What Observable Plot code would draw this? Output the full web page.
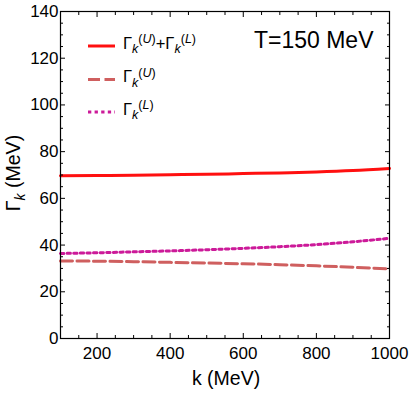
<!DOCTYPE html>
<html><head><meta charset="utf-8">
<script src="https://cdn.jsdelivr.net/npm/d3@7"></script>
<script src="https://cdn.jsdelivr.net/npm/@observablehq/plot@0.6"></script>
<style>body{margin:0;background:#fff} svg{display:block}</style>
</head><body><div id="chart"></div>
<script>
const k = [100, 200, 300, 400, 500, 600, 700, 800, 900, 1000];
const gammaSum = [69.7, 69.8, 69.9, 70.1, 70.3, 70.6, 70.9, 71.3, 71.9, 72.8];
const gammaU = [33.2, 33.1, 32.9, 32.6, 32.3, 32.0, 31.6, 31.1, 30.5, 29.8];
const gammaL = [36.4, 36.7, 37.1, 37.5, 38.0, 38.6, 39.3, 40.2, 41.4, 42.9];
const xTicks = [200, 400, 600, 800, 1000];
const yTicks = [0, 20, 40, 60, 80, 100, 120, 140];
const xMinor = [150, 250, 300, 350, 450, 500, 550, 650, 700, 750, 850, 900, 950];
const yMinor = [5, 10, 15, 25, 30, 35, 45, 50, 55, 65, 70, 75, 85, 90, 95, 105, 110, 115, 125, 130, 135];
const titleText = "T=150 MeV";

const FONT = "Liberation Sans, Arial, Helvetica, sans-serif";
const cSum = "#ff1010", cU = "#cf5f5f", cL = "#cc1a99";

const rows = k.map((v, i) => ({k: v, sum: gammaSum[i], u: gammaU[i], l: gammaL[i]}));

function tickAxes(maj, minr, dim) {
  const A = dim === "x" ? Plot.axisX : Plot.axisY;
  const anchors = dim === "x" ? ["bottom", "top"] : ["left", "right"];
  const out = [];
  for (const a of anchors) {
    out.push(A(maj, {anchor: a, tickSize: -5, fill: "none", label: null, stroke: "black", strokeWidth: 1}));
    out.push(A(minr, {anchor: a, tickSize: -3, fill: "none", label: null, stroke: "black", strokeWidth: 1}));
  }
  return out;
}

const plot = Plot.plot({
  width: 409,
  height: 394,
  marginLeft: 60,
  marginRight: 20,
  marginTop: 11,
  marginBottom: 56,
  style: {fontFamily: FONT, fontSize: "17px", color: "black", background: "white"},
  x: {domain: [100, 1000]},
  y: {domain: [0, 140]},
  marks: [
    Plot.line(rows, {x: "k", y: "u", stroke: cU, strokeWidth: 3, strokeDasharray: "12,4.5", curve: "monotone-x"}),
    Plot.line(rows, {x: "k", y: "l", stroke: cL, strokeWidth: 3, strokeDasharray: "3.3,3.3", curve: "monotone-x"}),
    Plot.line(rows, {x: "k", y: "sum", stroke: cSum, strokeWidth: 3, curve: "monotone-x"}),
    ...tickAxes(xTicks, xMinor, "x"),
    ...tickAxes(yTicks, yMinor, "y"),
    Plot.axisX(xTicks, {anchor: "bottom", tickSize: 0, tickPadding: 8, label: null, fill: "black", tickFormat: d => String(d)}),
    Plot.axisY(yTicks, {anchor: "left", tickSize: 0, tickPadding: 2, label: null, fill: "black", tickFormat: d => String(d)}),
    Plot.frame({stroke: "black", strokeWidth: 1.2}),
    Plot.text([titleText], {frameAnchor: "top-right", text: d => d, dx: -16, dy: 36, lineAnchor: "bottom", textAnchor: "end", fontSize: 23, fill: "black"})
  ]
});

document.getElementById("chart").appendChild(plot);

const svg = d3.select(plot);

// Gamma_k with optional superscript, returns dy needed to get back to baseline
function addGamma(t, sup, main, small, sub, supShift) {
  t.append("tspan").attr("font-size", main).text("Γ");
  t.append("tspan").attr("font-size", small).attr("font-style", "italic").attr("dy", sub).text("k");
  if (sup) {
    t.append("tspan").attr("font-size", small).attr("dy", -(sub + supShift)).text("(");
    t.append("tspan").attr("font-size", small).attr("font-style", "italic").text(sup);
    t.append("tspan").attr("font-size", small).text(")");
    return supShift;
  }
  return -sub;
}

// legend
const legendEntries = [
  {color: cSum, dash: null, parts: ["U", "L"]},
  {color: cU, dash: "12,4.5", parts: ["U"]},
  {color: cL, dash: "3.3,3.3", parts: ["L"]}
];
const lineYs = [46, 79.5, 112];
const lg = svg.append("g").attr("font-family", FONT).attr("fill", "black").attr("text-anchor", "start");
legendEntries.forEach((e, i) => {
  const y = lineYs[i];
  lg.append("line").attr("x1", 88).attr("x2", 115).attr("y1", y).attr("y2", y)
    .attr("stroke", e.color).attr("stroke-width", 3)
    .attr("stroke-dasharray", e.dash);
  const t = lg.append("text").attr("x", 123).attr("y", y + 2.5);
  let back = addGamma(t, e.parts[0], 16.5, 12.5, 4.5, 5.5);
  if (e.parts.length > 1) {
    t.append("tspan").attr("font-size", 16.5).attr("dy", back).text("+");
    addGamma(t, e.parts[1], 16.5, 12.5, 4.5, 5.5);
  }
});

// axis labels
const yl = svg.append("text").attr("font-family", FONT).attr("fill", "black")
  .attr("text-anchor", "middle").attr("transform", "translate(20,173) rotate(-90)");
const bk = addGamma(yl, null, 19.5, 14, 5, 0);
yl.append("tspan").attr("font-size", 19.5).attr("dy", bk).text(" (MeV)");

svg.append("text").attr("font-family", FONT).attr("fill", "black").attr("font-size", 19.5)
  .attr("text-anchor", "middle").attr("x", 226).attr("y", 385).text("k (MeV)");
</script>
</body></html>
